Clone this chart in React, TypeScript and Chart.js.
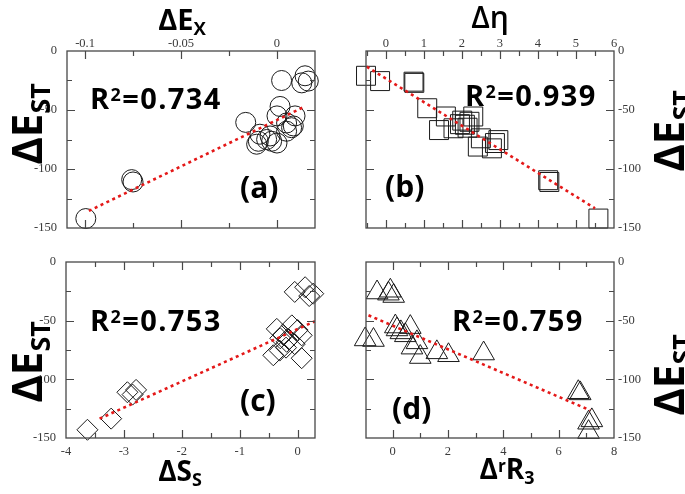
import React, { useEffect, useRef } from "react";
import { Chart, registerables } from "chart.js";

Chart.register(...registerables);

// ---------- Data ----------
// Panel (a): ΔE_X vs ΔE_ST (circles)
const aX = [-0.0996, -0.0757, -0.075, -0.0163, 0.0024, 0.0146, 0.0163, 0.0129, 0.0016, 0.0, 0.0094, 0.0076, 0.005, -0.0089, -0.0097, -0.0106, -0.0036, -0.0028, -0.0054, 0.005, 0.0085, 0.0];
const aY = [-142, -109, -111, -60.5, -25, -21, -25.5, -27, -47, -55, -55, -65, -61, -70.5, -76.5, -79, -72, -76.5, -75, -68, -63.5, -78];
const aFitX = [-0.098, 0.0137];
const aFitY = [-135.5, -47.7];
const aXTicks = [-0.1, -0.05, 0];
const aXTickLabels = ["-0.1", "-0.05", "0"];

// Panel (b): Δη vs ΔE_ST (squares)
const bX = [-0.52, -0.15, 0.73, 0.75, 1.09, 1.58, 1.4, 1.78, 2.01, 2.08, 2.3, 2.15, 1.95, 2.42, 2.87, 2.96, 2.79, 2.5, 4.27, 4.3, 5.59, 2.2];
const bY = [-21, -25.5, -26, -27, -48.5, -55.5, -67, -65.5, -59, -62.5, -55.5, -65, -62, -81, -78, -75.5, -82.5, -74, -109.5, -111, -142, -60];
const bFitX = [-0.5, 5.5];
const bFitY = [-13.3, -133.3];
const bXTicks = [0, 1, 2, 3, 4, 5, 6];
const bXTickLabels = ["0", "1", "2", "3", "4", "5", "6"];

// Panel (c): ΔS_S vs ΔE_ST (diamonds)
const cX = [-3.63, -3.22, -2.94, -2.79, -2.85, -0.05, 0.13, 0.27, 0.2, -0.36, -0.1, 0.07, -0.42, -0.31, 0.07, -0.19, -0.25, -0.15, -0.05, -0.3, -0.2, 0.0];
const cY = [-143, -133.5, -111, -109, -113, -25.5, -21.5, -27, -29, -57, -54, -62.5, -79.5, -75.5, -82, -68, -62, -66, -70, -65, -73, -58];
const cFitX = [-3.42, 0.3];
const cFitY = [-133.5, -50.5];
const cXTicks = [-4, -3, -2, -1, 0];
const cXTickLabels = ["-4", "-3", "-2", "-1", "0"];

// Panel (d): Δ^rR_3 vs ΔE_ST (triangles)
const dX = [-0.08, -0.56, 0.04, -0.15, -0.99, -0.69, 0.16, 0.64, 0.46, 0.88, 1.0, 1.6, 2.02, 3.29, 6.71, 6.78, 7.2, 7.08, 7.08, 0.3, 0.7, 0.1];
const dY = [-24.5, -26, -29, -27, -66, -66.5, -57.5, -55.5, -62.5, -68.5, -81, -77, -79.5, -78, -111, -112, -135, -137, -145, -60, -73, -55];
const dFitX = [-0.87, 7.14];
const dFitY = [-45.4, -126.4];
const dXTicks = [0, 2, 4, 6, 8];
const dXTickLabels = ["0", "2", "4", "6", "8"];

// Shared y axis
const yTicks = [-150, -100, -50, 0];
const yTickLabels = ["-150", "-100", "-50", "0"];

// ---------- Layout / style ----------
interface PanelCfg {
  xs: number[];
  ys: number[];
  fitX: number[];
  fitY: number[];
  xMin: number;
  xMax: number;
  xTicks: number[];
  xLabels: string[];
  xMinor: number;
  xPos: "top" | "bottom";
  yPos: "left" | "right";
  pointStyle: any;
  radius: number;
  left: number;
  top: number;
  w: number;
  h: number;
}

const M = 50; // horizontal margin inside canvas
const V = 30; // vertical margin inside canvas

const framePlugin = {
  id: "frameTicks",
  afterDatasetsDraw(chart: any) {
    const { ctx, chartArea } = chart;
    const { left, right, top, bottom } = chartArea;
    const xs = chart.scales.x;
    const ys = chart.scales.y;
    const cfg = chart.options.plugins.frameTicks;
    ctx.save();
    ctx.strokeStyle = "#484848";
    ctx.lineWidth = 1.3;
    ctx.strokeRect(left, top, right - left, bottom - top);
    ctx.lineWidth = 1.2;
    const major = 8;
    const minor = 5;
    ctx.beginPath();
    const xMin = xs.min;
    const xMax = xs.max;
    const xStart = Math.ceil((xMin - 1e-9) / cfg.xMinor) * cfg.xMinor;
    for (let v = xStart; v <= xMax + 1e-9; v += cfg.xMinor) {
      const isMajor = cfg.xTicks.some((t: number) => Math.abs(t - v) < cfg.xMinor / 10);
      const len = isMajor ? major : minor;
      const px = Math.round(xs.getPixelForValue(v)) + 0.5;
      if (px <= left + 1 || px >= right - 1) continue;
      ctx.moveTo(px, top);
      ctx.lineTo(px, top + len);
      ctx.moveTo(px, bottom);
      ctx.lineTo(px, bottom - len);
    }
    for (let v = -150; v <= 0; v += 25) {
      const isMajor = v % 50 === 0;
      const len = isMajor ? major : minor;
      const py = Math.round(ys.getPixelForValue(v)) + 0.5;
      if (py <= top + 1 || py >= bottom - 1) continue;
      ctx.moveTo(left, py);
      ctx.lineTo(left + len, py);
      ctx.moveTo(right, py);
      ctx.lineTo(right - len, py);
    }
    ctx.stroke();
    ctx.restore();
  },
};

function Panel({ cfg }: { cfg: PanelCfg }) {
  const ref = useRef<HTMLCanvasElement>(null);
  useEffect(() => {
    const tickFont = { family: '"Liberation Serif", "Times New Roman", serif', size: 12.5 };
    const chart = new Chart(ref.current as HTMLCanvasElement, {
      type: "scatter",
      data: {
        datasets: [
          {
            type: "line",
            data: cfg.fitX.map((x, i) => ({ x, y: cfg.fitY[i] })),
            borderColor: "rgb(228,24,24)",
            borderWidth: 2.6,
            borderDash: [3, 3.5],
            pointRadius: 0,
            showLine: true,
            fill: false,
            order: 1,
          } as any,
          {
            data: cfg.xs.map((x, i) => ({ x, y: cfg.ys[i] })),
            pointStyle: cfg.pointStyle,
            pointRadius: cfg.radius,
            pointHoverRadius: cfg.radius,
            pointBorderColor: "#1a1a1a",
            borderColor: "#1a1a1a",
            pointBorderWidth: 1,
            pointBackgroundColor: "rgba(0,0,0,0)",
            backgroundColor: "rgba(0,0,0,0)",
            showLine: false,
            clip: false,
            order: 2,
          } as any,
        ],
      },
      options: {
        animation: false,
        responsive: false,
        maintainAspectRatio: false,
        events: [],
        layout: {
          padding: {
            left: cfg.yPos === "left" ? 0 : M,
            right: cfg.yPos === "right" ? 0 : M,
            top: cfg.xPos === "top" ? 0 : V,
            bottom: cfg.xPos === "bottom" ? 0 : V,
          },
        },
        plugins: {
          legend: { display: false },
          tooltip: { enabled: false },
          frameTicks: { xTicks: cfg.xTicks, xMinor: cfg.xMinor },
        } as any,
        scales: {
          x: {
            type: "linear",
            position: cfg.xPos,
            min: cfg.xMin,
            max: cfg.xMax,
            grid: { display: false, drawTicks: false },
            border: { display: false },
            ticks: {
              font: tickFont,
              color: "#3a3a3a",
              padding: cfg.xPos === "top" ? 0 : 6,
              maxRotation: 0,
              autoSkip: false,
              callback: (_v: any, i: number) => cfg.xLabels[i],
            },
            afterBuildTicks: (s: any) => {
              s.ticks = cfg.xTicks.map((v) => ({ value: v }));
            },
            afterFit: (s: any) => {
              s.height = V;
            },
          },
          y: {
            type: "linear",
            position: cfg.yPos,
            min: -150,
            max: 0,
            grid: { display: false, drawTicks: false },
            border: { display: false },
            ticks: {
              font: tickFont,
              color: "#3a3a3a",
              padding: cfg.yPos === "left" ? 10 : 4,
              autoSkip: false,
              callback: (_v: any, i: number) => yTickLabels[i],
            },
            afterBuildTicks: (s: any) => {
              s.ticks = yTicks.map((v) => ({ value: v }));
            },
            afterFit: (s: any) => {
              s.width = M;
            },
          },
        },
      } as any,
      plugins: [framePlugin],
    });
    return () => chart.destroy();
  }, [cfg]);
  const cw = cfg.w + 2 * M;
  const ch = cfg.h + 2 * V;
  return (
    <canvas
      ref={ref}
      width={cw}
      height={ch}
      style={{ position: "absolute", left: cfg.left - M, top: cfg.top - V, width: cw, height: ch }}
    />
  );
}

const panels: PanelCfg[] = [
  { xs: aX, ys: aY, fitX: aFitX, fitY: aFitY, xMin: -0.1094, xMax: 0.0198, xTicks: aXTicks, xLabels: aXTickLabels, xMinor: 0.025, xPos: "top", yPos: "left", pointStyle: "circle", radius: 10, left: 67, top: 51, w: 248, h: 177 },
  { xs: bX, ys: bY, fitX: bFitX, fitY: bFitY, xMin: -0.52, xMax: 6, xTicks: bXTicks, xLabels: bXTickLabels, xMinor: 0.5, xPos: "top", yPos: "right", pointStyle: "rect", radius: 13.4, left: 366, top: 51, w: 248, h: 177 },
  { xs: cX, ys: cY, fitX: cFitX, fitY: cFitY, xMin: -4, xMax: 0.3, xTicks: cXTicks, xLabels: cXTickLabels, xMinor: 0.5, xPos: "bottom", yPos: "left", pointStyle: "rectRot", radius: 10.5, left: 66, top: 262, w: 249, h: 176 },
  { xs: dX, ys: dY, fitX: dFitX, fitY: dFitY, xMin: -0.96, xMax: 8, xTicks: dXTicks, xLabels: dXTickLabels, xMinor: 1, xPos: "bottom", yPos: "right", pointStyle: "triangle", radius: 12.5, left: 366, top: 262, w: 248, h: 176 },
];

const boldFont = '"Open Sans", "Liberation Sans", sans-serif';

const baseText: React.CSSProperties = {
  position: "absolute",
  fontFamily: boldFont,
  fontWeight: 700,
  color: "#000",
  whiteSpace: "nowrap",
  lineHeight: 1,
};

const Sub = ({ children }: { children: React.ReactNode }) => (
  <span style={{ fontSize: "0.64em", position: "relative", top: "0.28em" }}>{children}</span>
);
const Sup = ({ children }: { children: React.ReactNode }) => (
  <span style={{ fontSize: "0.62em", position: "relative", top: "-0.42em" }}>{children}</span>
);

function R2({ left, top, value }: { left: number; top: number; value: string }) {
  return (
    <div style={{ ...baseText, left, top, fontSize: 29, letterSpacing: 1.4 }}>
      R<Sup>2</Sup>={value}
    </div>
  );
}

function Tag({ left, top, label }: { left: number; top: number; label: string }) {
  return <div style={{ ...baseText, left, top, fontSize: 30 }}>{label}</div>;
}

function YTitle({ cx, cy }: { cx: number; cy: number }) {
  return (
    <div
      style={{
        ...baseText,
        left: cx,
        top: cy,
        fontSize: 42,
        transform: "translate(-50%, -50%) rotate(-90deg)",
      }}
    >
      ΔE<Sub>ST</Sub>
    </div>
  );
}

export default function App() {
  return (
    <div
      style={{
        position: "absolute",
        left: 0,
        top: 0,
        width: 685,
        height: 494,
        background: "#fff",
        overflow: "hidden",
      }}
    >
      {panels.map((p, i) => (
        <Panel key={i} cfg={p} />
      ))}

      {/* axis titles */}
      <div style={{ ...baseText, left: 182, top: 4, fontSize: 29, transform: "translateX(-50%)" }}>
        ΔE<Sub>X</Sub>
      </div>
      <div style={{ ...baseText, left: 490, top: 2, fontSize: 30, fontWeight: 600, transform: "translateX(-50%)" }}>
        Δη
      </div>
      <div style={{ ...baseText, left: 180, top: 456, fontSize: 28, transform: "translateX(-50%)" }}>
        ΔS<Sub>S</Sub>
      </div>
      <div style={{ ...baseText, left: 507, top: 454, fontSize: 28, transform: "translateX(-50%)" }}>
        Δ<Sup>r</Sup>R<Sub>3</Sub>
      </div>

      <YTitle cx={26} cy={124} />
      <YTitle cx={26} cy={362} />
      <YTitle cx={668} cy={131} />
      <YTitle cx={668} cy={375} />

      {/* annotations */}
      <R2 left={90} top={83} value="0.734" />
      <R2 left={465} top={80} value="0.939" />
      <R2 left={90} top={305} value="0.753" />
      <R2 left={452} top={305} value="0.759" />

      <Tag left={240} top={172} label="(a)" />
      <Tag left={385} top={171} label="(b)" />
      <Tag left={240} top={385} label="(c)" />
      <Tag left={392} top={393} label="(d)" />
    </div>
  );
}
